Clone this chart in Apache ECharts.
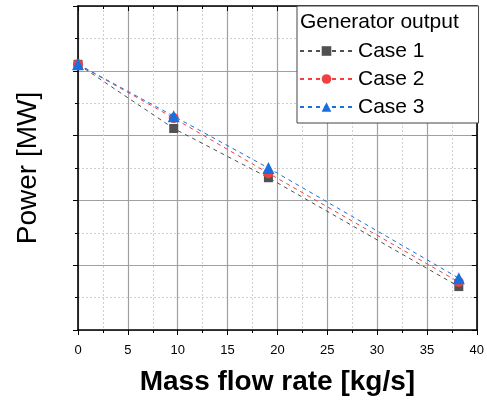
<!DOCTYPE html>
<html>
<head>
<meta charset="utf-8">
<script src="https://cdn.jsdelivr.net/npm/echarts@6/dist/echarts.min.js"></script>
<style>
  html, body { margin: 0; padding: 0; background: #fff; }
  #main { width: 487px; height: 401px; }
</style>
</head>
<body>
<div id="main"></div>
<script>
// data (y axis has no labels, arbitrary units 0..5)
var massFlow = [0, 9.6, 19.1, 38.2]
var case1 = [4.10, 3.11, 2.35, 0.67]
var case2 = [4.10, 3.27, 2.42, 0.74]
var case3 = [4.10, 3.30, 2.50, 0.80]
var seriesNames = ['Case 1', 'Case 2', 'Case 3']
var colors = ['#515151', '#F14040', '#1A6FDF']
var symbols = ['rect', 'circle', 'triangle']
var symbolSizes = [9, 10, 12]

function pairs(xs, ys) {
    return xs.map(function (x, i) { return [x, ys[i]] })
}

var chart = echarts.init(document.getElementById('main'))

var allY = [case1, case2, case3]
var series = allY.map(function (ys, i) {
    return {
        name: seriesNames[i],
        type: 'line',
        data: pairs(massFlow, ys),
        symbol: symbols[i],
        symbolSize: symbolSizes[i],
        color: colors[i],
        lineStyle: { width: 1, type: [4, 4], color: colors[i] },
        itemStyle: { color: colors[i] },
        z: 3 + i
    }
})

var font = 'Liberation Sans'
var gridLine = { show: true, lineStyle: { color: '#a0a0a0', width: 1.2 } }
var minorLine = { show: true, lineStyle: { color: '#cfcfcf', width: 1, type: [2, 2] } }
var axisLineStyle = { show: true, onZero: false, lineStyle: { color: '#000', width: 1.6 } }

var option = {
    animation: false,
    backgroundColor: '#fff',
    grid: { left: 78, right: 9, top: 6, bottom: 69 },
    title: {
        text: 'Generator output',
        left: 300,
        top: 12,
        padding: 0,
        textStyle: { fontFamily: font, fontSize: 21, fontWeight: 'normal', color: '#000' }
    },
    legend: {
        data: seriesNames,
        orient: 'vertical',
        left: 297,
        top: 6,
        padding: [34, 54, 5, 2],
        itemGap: 6,
        itemWidth: 53,
        itemHeight: 12,
        backgroundColor: '#fff',
        borderColor: '#444',
        borderWidth: 1,
        textStyle: { fontFamily: font, fontSize: 21, lineHeight: 22, color: '#000' }
    },
    xAxis: [{
        type: 'value',
        min: 0, max: 40, interval: 5,
        name: 'Mass flow rate [kg/s]',
        nameLocation: 'middle',
        nameGap: 38,
        nameTextStyle: { fontFamily: font, fontSize: 28, fontWeight: 'bold', color: '#000' },
        axisLine: axisLineStyle,
        axisTick: { show: true, inside: false, length: 5, lineStyle: { color: '#000' } },
        minorTick: { show: true, splitNumber: 2, length: 3, lineStyle: { color: '#000' } },
        axisLabel: { fontFamily: font, fontSize: 13, color: '#000', margin: 14 },
        splitLine: gridLine,
        minorSplitLine: minorLine
    }, {
        type: 'value',
        position: 'top',
        min: 0, max: 40, interval: 5,
        axisLine: axisLineStyle,
        axisTick: { show: true, inside: true, length: 5, lineStyle: { color: '#000' } },
        minorTick: { show: true, splitNumber: 2, length: 3, lineStyle: { color: '#000' } },
        axisLabel: { show: false },
        splitLine: { show: false }
    }],
    yAxis: [{
        type: 'value',
        min: 0, max: 5, interval: 1,
        name: 'Power [MW]',
        nameLocation: 'middle',
        nameGap: 36,
        nameTextStyle: { fontFamily: font, fontSize: 28, color: '#000' },
        axisLine: axisLineStyle,
        axisTick: { show: true, inside: false, length: 5, lineStyle: { color: '#000' } },
        minorTick: { show: true, splitNumber: 2, length: 3, lineStyle: { color: '#000' } },
        axisLabel: { show: false },
        splitLine: gridLine,
        minorSplitLine: minorLine
    }, {
        type: 'value',
        position: 'right',
        min: 0, max: 5, interval: 1,
        axisLine: axisLineStyle,
        axisTick: { show: true, inside: true, length: 5, lineStyle: { color: '#000' } },
        minorTick: { show: true, splitNumber: 2, length: 3, lineStyle: { color: '#000' } },
        axisLabel: { show: false },
        splitLine: { show: false }
    }],
    series: series
}

chart.setOption(option)
</script>
</body>
</html>
